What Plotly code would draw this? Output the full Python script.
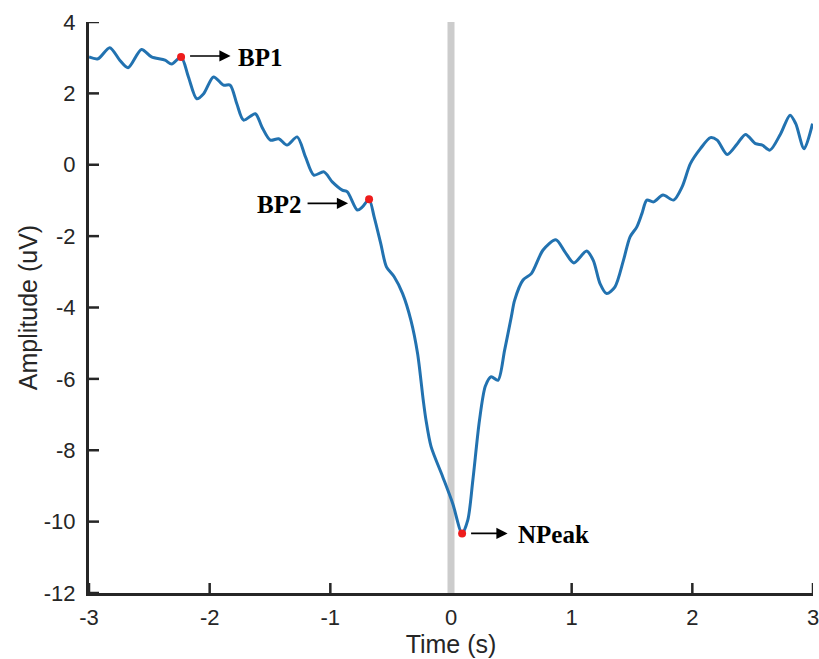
import plotly.graph_objects as go

# Grand-average waveform (time in s, amplitude in uV)
t = [-3.00, -2.925, -2.828, -2.745, -2.676, -2.565, -2.482, -2.37, -2.315, -2.237,
     -2.176, -2.107, -2.05, -1.968, -1.885, -1.83, -1.775, -1.719, -1.622, -1.567,
     -1.497, -1.428, -1.359, -1.275, -1.206, -1.137, -1.053, -0.984, -0.901, -0.859,
     -0.776, -0.734, -0.679, -0.637, -0.582, -0.535, -0.471, -0.401, -0.332, -0.277,
     -0.23, -0.207, -0.165, -0.069, 0.014, 0.092, 0.139, 0.181, 0.236, 0.285,
     0.333, 0.389, 0.444, 0.5, 0.527, 0.597, 0.666, 0.763, 0.869, 0.944,
     1.018, 1.124, 1.179, 1.235, 1.29, 1.359, 1.429, 1.484, 1.54, 1.582,
     1.623, 1.679, 1.757, 1.845, 1.915, 1.984, 2.067, 2.15, 2.206, 2.289,
     2.373, 2.441, 2.524, 2.58, 2.643, 2.732, 2.81, 2.857, 2.926, 2.996]
amp = [3.02, 2.97, 3.28, 2.93, 2.72, 3.23, 3.02, 2.93, 2.82, 3.02,
       2.46, 1.85, 1.99, 2.46, 2.23, 2.23, 1.71, 1.25, 1.43, 1.06,
       0.69, 0.73, 0.55, 0.78, 0.22, -0.29, -0.20, -0.48, -0.71, -0.76,
       -1.27, -1.18, -0.97, -1.46, -2.21, -2.86, -3.14, -3.61, -4.36, -5.29,
       -6.6, -7.16, -7.90, -8.74, -9.49, -10.33, -9.96, -8.84, -7.16, -6.2,
       -5.94, -6.04, -5.2, -4.26, -3.8, -3.23, -3.05, -2.39, -2.10, -2.44,
       -2.75, -2.42, -2.68, -3.33, -3.61, -3.42, -2.68, -2.02, -1.74, -1.37,
       -0.99, -1.04, -0.85, -0.99, -0.62, 0.03, 0.45, 0.76, 0.69, 0.29,
       0.59, 0.85, 0.59, 0.55, 0.41, 0.87, 1.39, 1.15, 0.45, 1.15]

# Marked components
comp_names = ["BP1", "BP2", "NPeak"]
comp_t = [-2.237, -0.679, 0.092]
comp_amp = [3.02, -0.97, -10.33]

x_ticks = [-3, -2, -1, 0, 1, 2, 3]
y_ticks = [-12, -10, -8, -6, -4, -2, 0, 2, 4]

W, H = 819, 659
M = dict(l=89, r=6, t=22, b=66)
plot_w = W - M["l"] - M["r"]
plot_h = H - M["t"] - M["b"]

axis_color = "#262626"
font_family = "Liberation Sans, Arial, Helvetica, sans-serif"
tick_len_px = 10

fig = go.Figure()

fig.add_trace(go.Scatter(
    x=t, y=amp, mode="lines",
    line=dict(color="#2272b0", width=3, shape="spline", smoothing=0.8),
    hoverinfo="skip", showlegend=False,
))
fig.add_trace(go.Scatter(
    x=comp_t, y=comp_amp, mode="markers",
    marker=dict(color="#ee1c1c", size=8),
    showlegend=False,
))

# Stimulus onset marker
fig.add_shape(type="line", x0=0, x1=0, xref="x", y0=0, y1=1, yref="paper",
              line=dict(color="#cccccc", width=7), layer="below")

# Inward-pointing tick marks
for v in x_ticks:
    if v == 0:
        continue
    fig.add_shape(type="line", xref="x", yref="paper", x0=v, x1=v,
                  y0=0, y1=tick_len_px / plot_h,
                  line=dict(color=axis_color, width=2.5), layer="above")
for v in y_ticks:
    fig.add_shape(type="line", xref="paper", yref="y", x0=0, x1=tick_len_px / plot_w,
                  y0=v, y1=v,
                  line=dict(color=axis_color, width=2.5), layer="above")

label_font = dict(family="Liberation Serif, Times New Roman, serif", size=25, color="black")
arrow_style = dict(text="", showarrow=True, arrowcolor="black", arrowwidth=1.6,
                   arrowhead=2, arrowsize=1.4, startarrowhead=2, startarrowsize=1.4,
                   axref="pixel", ayref="pixel", borderpad=0, startstandoff=0)

# Arrows: BP1 and NPeak point away from the marker, BP2 points at it
fig.add_annotation(x=comp_t[0], y=comp_amp[0], ax=50, ay=0, yshift=1,
                   arrowside="start", standoff=9, **arrow_style)
fig.add_annotation(x=comp_t[1], y=comp_amp[1], ax=-62, ay=0, yshift=-4,
                   arrowside="end", standoff=21, **arrow_style)
fig.add_annotation(x=comp_t[2], y=comp_amp[2], ax=46, ay=0, yshift=0,
                   arrowside="start", standoff=9, **arrow_style)

# Component labels
label_shift = {"BP1": (79, -1), "BP2": (-90, -5), "NPeak": (91, -1)}
for name, tx, ty in zip(comp_names, comp_t, comp_amp):
    dx, dy = label_shift[name]
    fig.add_annotation(x=tx, y=ty, text=f"<b>{name}</b>", font=label_font,
                       showarrow=False, xshift=dx, yshift=dy,
                       xanchor="center", yanchor="middle")

axis_common = dict(
    showline=True, linewidth=3, linecolor=axis_color, mirror=False,
    ticks="", showgrid=False, zeroline=False, automargin=False,
    ticklabeloverflow="allow",
    tickfont=dict(family=font_family, size=22, color=axis_color),
)

fig.update_xaxes(range=[-3, 3], tickvals=x_ticks, ticktext=[str(v) for v in x_ticks],
                 ticklabelstandoff=3,
                 title=dict(text="Time (s)", font=dict(family=font_family, size=25, color=axis_color),
                            standoff=6),
                 **axis_common)
fig.update_yaxes(range=[-12, 4], tickvals=y_ticks, ticktext=[str(v) for v in y_ticks],
                 ticklabelstandoff=6,
                 title=dict(text="Amplitude (uV)", font=dict(family=font_family, size=25, color=axis_color),
                            standoff=0),
                 **axis_common)

fig.update_layout(
    template="none",
    width=W, height=H,
    margin=M,
    paper_bgcolor="white", plot_bgcolor="white",
    showlegend=False,
)

fig.write_html("out.html")
